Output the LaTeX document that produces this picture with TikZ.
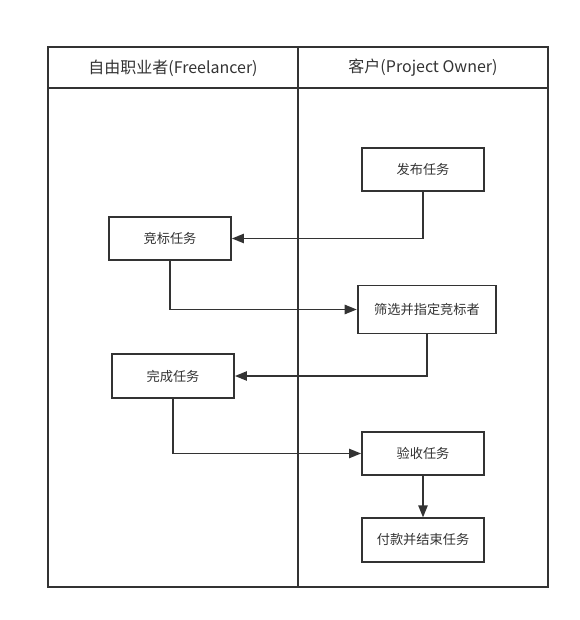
\documentclass[tikz,border=0pt]{standalone}
\usepackage{fontspec}
\setmainfont{Noto Sans CJK SC}
\usetikzlibrary{arrows.meta}
\definecolor{ink}{HTML}{333333}
\begin{document}
\begin{tikzpicture}[x=0.75pt,y=-0.75pt,
  lane/.style={draw=ink,line width=1.5pt},
  task/.style={draw=ink,line width=1.4pt,fill=white,minimum width=91.5pt,minimum height=32.5pt,inner sep=0pt,font=\fontsize{9.9}{12}\selectfont,text=ink},
  flow/.style={draw=ink,line width=1.1pt,-{Triangle[length=9pt,width=7pt]}},
  head/.style={font=\fontsize{12}{14}\selectfont,text=ink}]
\useasboundingbox (0,0) rectangle (580,620);
% swimlanes
\draw[lane] (48,47) rectangle (548,587);
\draw[lane] (48,88) -- (548,88);
\draw[lane] (298,47) -- (298,587);
\node[head] (h1) at (173,68) {自由职业者(Freelancer)};
\node[head] (h2) at (423,68) {客户(Project Owner)};
% tasks
\node[task] (fabu) at (423,169.5) {发布任务};
\node[task] (jingbiao) at (170,238.5) {竞标任务};
\node[task,minimum width=104pt,minimum height=36pt] (shaixuan) at (427,309.5) {筛选并指定竞标者};
\node[task] (wancheng) at (173,376) {完成任务};
\node[task] (yanshou) at (423,453.5) {验收任务};
\node[task] (fukuan) at (423,540) {付款并结束任务};
% connectors
\draw[flow] (fabu.south) |- (jingbiao.east);
\draw[flow] (jingbiao.south) |- (shaixuan.west);
\draw[flow] (shaixuan.south) |- (wancheng.east);
\draw[flow] (wancheng.south) |- (yanshou.west);
\draw[flow] (yanshou.south) -- (fukuan.north);
\end{tikzpicture}
\end{document}
